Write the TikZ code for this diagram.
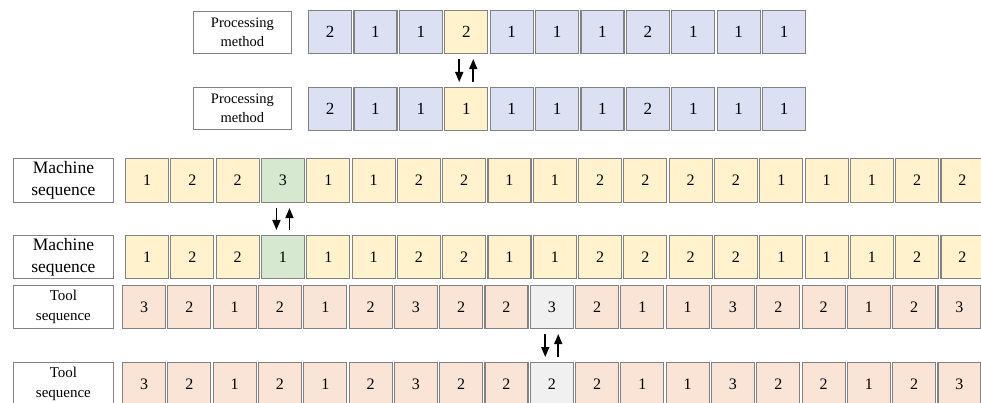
\documentclass[tikz,border=0pt]{standalone}
\usepackage{fontspec}
\setmainfont{Liberation Serif}
\usetikzlibrary{arrows.meta}
\definecolor{cblue}{RGB}{220,224,243}
\definecolor{cyel}{RGB}{255,242,204}
\definecolor{cgreen}{RGB}{214,232,208}
\definecolor{csalm}{RGB}{250,228,213}
\definecolor{cgray}{RGB}{240,240,240}
\definecolor{cbord}{RGB}{130,130,130}
\tikzset{
  cell/.style={draw=cbord, line width=1.1pt, minimum width=43pt, minimum height=43pt, inner sep=0pt, anchor=north west},
  lab/.style={draw=cbord, line width=0.8pt, fill=white, inner sep=0pt, anchor=north west, align=center},
  swap/.style={line width=1.6pt, -{Triangle[width=8pt,length=10pt]}, shorten <=5pt, shorten >=5pt}
}
\begin{document}
\begin{tikzpicture}[x=1pt,y=-1pt]
\useasboundingbox (0,0) rectangle (981,403);
\clip (0,0) rectangle (981,403);
% Processing method rows
\node[lab, minimum width=98pt, minimum height=42pt, font=\fontsize{14.5}{19}\selectfont] (pl1) at (193,11) {Processing\\method};
\node[lab, minimum width=98pt, minimum height=42pt, font=\fontsize{14.5}{19}\selectfont] (pl2) at (193,87) {Processing\\method};
\foreach \v [count=\i from 0] in {2,1,1,2,1,1,1,2,1,1,1}{
  \ifnum\i=3 \def\cc{cyel}\else\def\cc{cblue}\fi
  \node[cell, fill=\cc, font=\fontsize{17}{17}\selectfont] (pA\i) at ({308+45.4*\i},10) {\v};
}
\foreach \v [count=\i from 0] in {2,1,1,1,1,1,1,2,1,1,1}{
  \ifnum\i=3 \def\cc{cyel}\else\def\cc{cblue}\fi
  \node[cell, fill=\cc, font=\fontsize{17}{17}\selectfont] (pB\i) at ({308+45.4*\i},87) {\v};
}
\draw[swap] ([xshift=-7pt]pA3.south) -- ([xshift=-7pt]pB3.north);
\draw[swap] ([xshift=7pt]pB3.north) -- ([xshift=7pt]pA3.south);
% Machine sequence rows
\node[lab, minimum width=100pt, minimum height=44pt, font=\fontsize{17.5}{22}\selectfont] (ml1) at (13,158) {Machine\\sequence};
\node[lab, minimum width=100pt, minimum height=43pt, font=\fontsize{17.5}{22}\selectfont] (ml2) at (13,235) {Machine\\sequence};
\foreach \v [count=\i from 0] in {1,2,2,3,1,1,2,2,1,1,2,2,2,2,1,1,1,2,2}{
  \ifnum\i=3 \def\cc{cgreen}\else\def\cc{cyel}\fi
  \node[cell, fill=\cc, minimum height=44pt, font=\fontsize{16}{16}\selectfont] (mA\i) at ({125+45.3*\i},158) {\v};
}
\foreach \v [count=\i from 0] in {1,2,2,1,1,1,2,2,1,1,2,2,2,2,1,1,1,2,2}{
  \ifnum\i=3 \def\cc{cgreen}\else\def\cc{cyel}\fi
  \node[cell, fill=\cc, font=\fontsize{16}{16}\selectfont] (mB\i) at ({125+45.3*\i},235) {\v};
}
\draw[swap] ([xshift=-6.5pt]mA3.south) -- ([xshift=-6.5pt]mB3.north);
\draw[swap] ([xshift=6.5pt]mB3.north) -- ([xshift=6.5pt]mA3.south);
% Tool sequence rows
\node[lab, minimum width=100pt, minimum height=43pt, font=\fontsize{15}{20}\selectfont] (tl1) at (13,285) {Tool\\sequence};
\node[lab, minimum width=100pt, minimum height=43pt, font=\fontsize{15}{20}\selectfont] (tl2) at (13,362) {Tool\\sequence};
\foreach \v [count=\i from 0] in {3,2,1,2,1,2,3,2,2,3,2,1,1,3,2,2,1,2,3}{
  \ifnum\i=9 \def\cc{cgray}\else\def\cc{csalm}\fi
  \node[cell, fill=\cc, font=\fontsize{16}{16}\selectfont] (tA\i) at ({122+45.3*\i},285) {\v};
}
\foreach \v [count=\i from 0] in {3,2,1,2,1,2,3,2,2,2,2,1,1,3,2,2,1,2,3}{
  \ifnum\i=9 \def\cc{cgray}\else\def\cc{csalm}\fi
  \node[cell, fill=\cc, font=\fontsize{16}{16}\selectfont] (tB\i) at ({122+45.3*\i},362) {\v};
}
\draw[swap] ([xshift=-6.5pt]tA9.south) -- ([xshift=-6.5pt]tB9.north);
\draw[swap] ([xshift=6.5pt]tB9.north) -- ([xshift=6.5pt]tA9.south);
\end{tikzpicture}
\end{document}
